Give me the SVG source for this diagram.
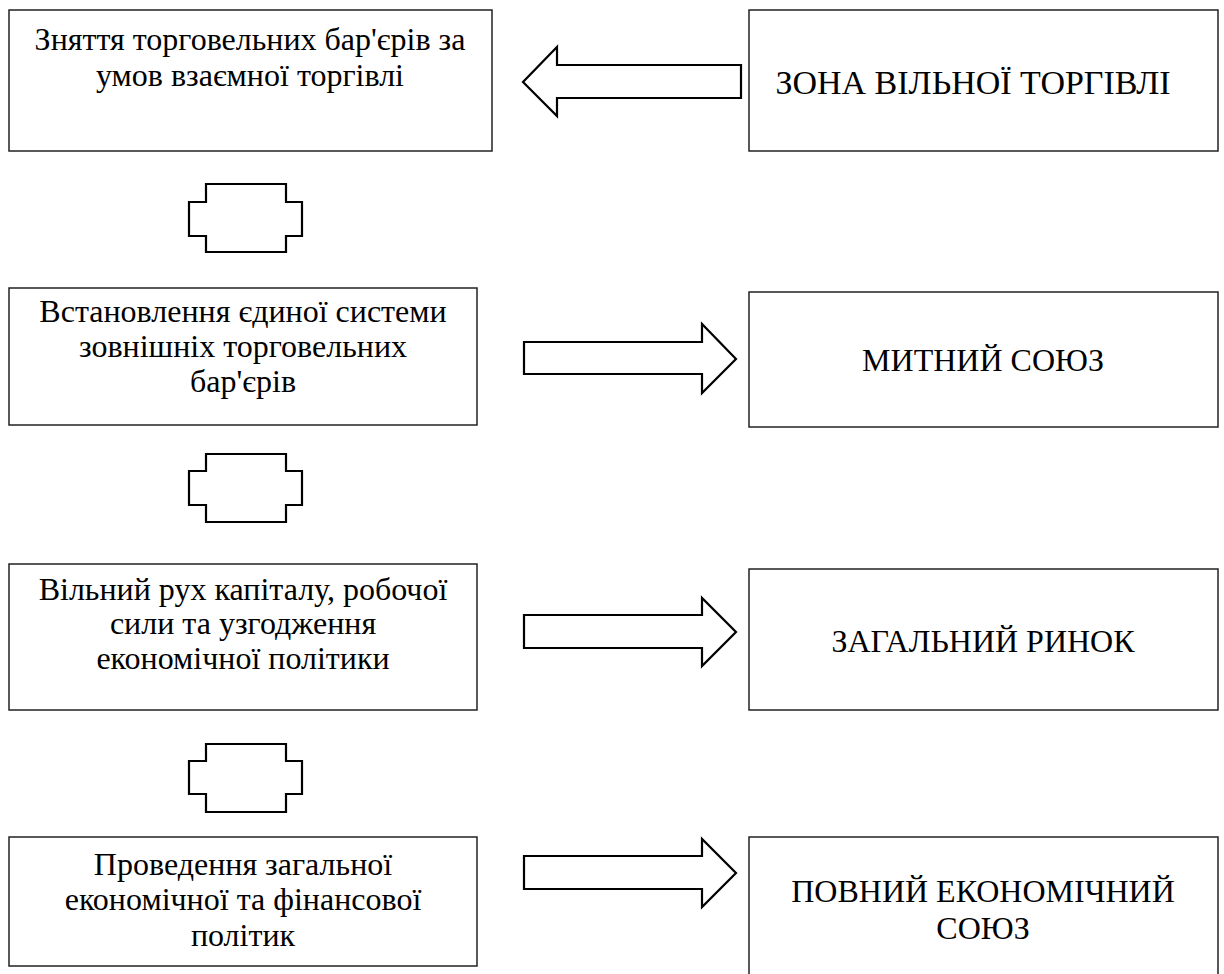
<svg xmlns="http://www.w3.org/2000/svg" width="1224" height="974" viewBox="0 0 1224 974">
  <style>
    .box { fill: #ffffff; stroke: #222222; stroke-width: 1.5; }
    .shape { fill: #ffffff; stroke: #000000; stroke-width: 2.2; stroke-linejoin: miter; }
    .t { font-family: 'Liberation Serif', 'DejaVu Serif', serif; font-size: 32px; fill: #000000; text-anchor: middle; }
    .big { font-size: 34px; }
  </style>
  <rect width="1224" height="974" fill="#ffffff"/>

  <!-- left column: stage descriptions -->
  <g id="stage1">
    <rect class="box" x="9" y="10" width="483" height="141"/>
    <text class="t" x="250" y="50">Зняття торговельних бар'єрів за</text>
    <text class="t" x="250" y="86">умов взаємної торгівлі</text>
  </g>
  <g id="stage2">
    <rect class="box" x="9" y="288" width="468" height="137"/>
    <text class="t" x="243" y="322">Встановлення єдиної системи</text>
    <text class="t" x="243" y="357">зовнішніх торговельних</text>
    <text class="t" x="243" y="392">бар'єрів</text>
  </g>
  <g id="stage3">
    <rect class="box" x="9" y="564" width="468" height="146"/>
    <text class="t" x="243" y="600">Вільний рух капіталу, робочої</text>
    <text class="t" x="243" y="634">сили та узгодження</text>
    <text class="t" x="243" y="669">економічної політики</text>
  </g>
  <g id="stage4">
    <rect class="box" x="9" y="837" width="468" height="129"/>
    <text class="t" x="243" y="875">Проведення загальної</text>
    <text class="t" x="243" y="910">економічної та фінансової</text>
    <text class="t" x="243" y="946">політик</text>
  </g>

  <!-- right column: integration forms -->
  <g id="form1">
    <rect class="box" x="749" y="10" width="469" height="141"/>
    <text class="t big" x="973" y="94">ЗОНА ВІЛЬНОЇ ТОРГІВЛІ</text>
  </g>
  <g id="form2">
    <rect class="box" x="749" y="292" width="469" height="135"/>
    <text class="t" x="983" y="371">МИТНИЙ СОЮЗ</text>
  </g>
  <g id="form3">
    <rect class="box" x="749" y="569" width="469" height="141"/>
    <text class="t" x="983" y="652">ЗАГАЛЬНИЙ РИНОК</text>
  </g>
  <g id="form4">
    <rect class="box" x="749" y="837" width="469" height="160"/>
    <text class="t" x="983" y="902">ПОВНИЙ ЕКОНОМІЧНИЙ</text>
    <text class="t" x="983" y="939">СОЮЗ</text>
  </g>

  <!-- connectors: block arrows and step links -->
  <g id="connectors">
    <polygon class="shape" points="741,65 557,65 557,47 523,82 557,116 557,98 741,98"/>
    <polygon class="shape" points="524,342 702,342 702,324 736,359 702,393 702,374 524,374"/>
    <polygon class="shape" points="524,615 702,615 702,598 736,632 702,666 702,648 524,648"/>
    <polygon class="shape" points="524,856 702,856 702,839 736,873 702,907 702,889 524,889"/>

    <polygon class="shape" points="206,184 286,184 286,202 302,202 302,236 286,236 286,252 206,252 206,236 189,236 189,202 206,202"/>
    <polygon class="shape" points="206,454 286,454 286,471 302,471 302,505 286,505 286,522 206,522 206,505 189,505 189,471 206,471"/>
    <polygon class="shape" points="206,744 286,744 286,761 302,761 302,794 286,794 286,812 206,812 206,794 189,794 189,761 206,761"/>
  </g>
</svg>
